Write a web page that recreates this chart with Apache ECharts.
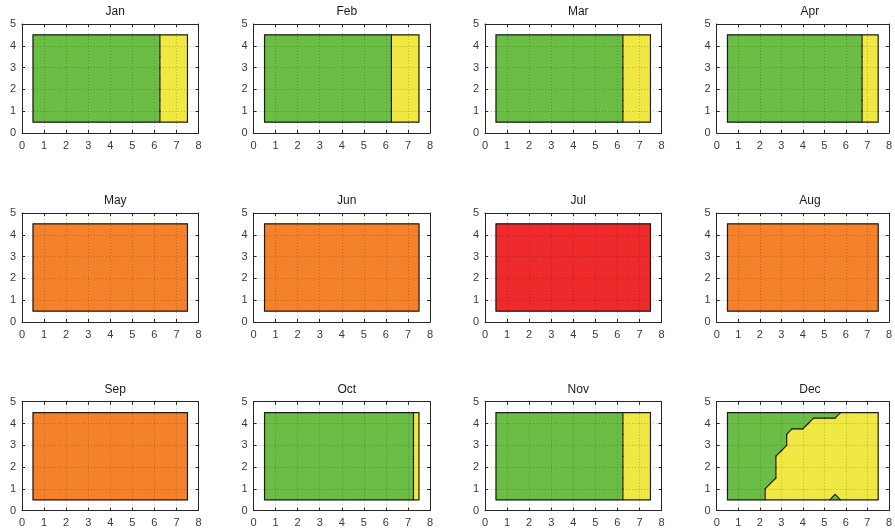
<!DOCTYPE html>
<html><head><meta charset="utf-8">
<script src="https://cdn.jsdelivr.net/npm/echarts@6/dist/echarts.min.js"></script>
<style>html,body{margin:0;padding:0;background:#fff}#c{width:895px;height:532px}</style>
</head><body><div id="c"></div><script>
// ---- data ----
const monthNames = ['Jan','Feb','Mar','Apr','May','Jun','Jul','Aug','Sep','Oct','Nov','Dec'];
const xNodes = [0.5,1,1.5,2,2.5,3,3.5,4,4.5,5,5.5,6,6.5,7,7.5];
const yNodes = [0.5,1,1.5,2,2.5,3,3.5,4,4.5];
const xTicks = [0,1,2,3,4,5,6,7,8];
const yTicks = [0,1,2,3,4,5];
const classColors = {G:'#6BBD45', Y:'#F0E843', O:'#F5822B', R:'#EE2A2B'};
// rows listed from y = 0.5 (bottom) to y = 4.5 (top); one letter per x node
const janRows = ['GGGGGGGGGGGGYYY','GGGGGGGGGGGGYYY','GGGGGGGGGGGGYYY','GGGGGGGGGGGGYYY','GGGGGGGGGGGGYYY','GGGGGGGGGGGGYYY','GGGGGGGGGGGGYYY','GGGGGGGGGGGGYYY','GGGGGGGGGGGGYYY'];
const febRows = ['GGGGGGGGGGGGYYY','GGGGGGGGGGGGYYY','GGGGGGGGGGGGYYY','GGGGGGGGGGGGYYY','GGGGGGGGGGGGYYY','GGGGGGGGGGGGYYY','GGGGGGGGGGGGYYY','GGGGGGGGGGGGYYY','GGGGGGGGGGGGYYY'];
const marRows = ['GGGGGGGGGGGGYYY','GGGGGGGGGGGGYYY','GGGGGGGGGGGGYYY','GGGGGGGGGGGGYYY','GGGGGGGGGGGGYYY','GGGGGGGGGGGGYYY','GGGGGGGGGGGGYYY','GGGGGGGGGGGGYYY','GGGGGGGGGGGGYYY'];
const aprRows = ['GGGGGGGGGGGGGYY','GGGGGGGGGGGGGYY','GGGGGGGGGGGGGYY','GGGGGGGGGGGGGYY','GGGGGGGGGGGGGYY','GGGGGGGGGGGGGYY','GGGGGGGGGGGGGYY','GGGGGGGGGGGGGYY','GGGGGGGGGGGGGYY'];
const mayRows = ['OOOOOOOOOOOOOOO','OOOOOOOOOOOOOOO','OOOOOOOOOOOOOOO','OOOOOOOOOOOOOOO','OOOOOOOOOOOOOOO','OOOOOOOOOOOOOOO','OOOOOOOOOOOOOOO','OOOOOOOOOOOOOOO','OOOOOOOOOOOOOOO'];
const junRows = ['OOOOOOOOOOOOOOO','OOOOOOOOOOOOOOO','OOOOOOOOOOOOOOO','OOOOOOOOOOOOOOO','OOOOOOOOOOOOOOO','OOOOOOOOOOOOOOO','OOOOOOOOOOOOOOO','OOOOOOOOOOOOOOO','OOOOOOOOOOOOOOO'];
const julRows = ['RRRRRRRRRRRRRRR','RRRRRRRRRRRRRRR','RRRRRRRRRRRRRRR','RRRRRRRRRRRRRRR','RRRRRRRRRRRRRRR','RRRRRRRRRRRRRRR','RRRRRRRRRRRRRRR','RRRRRRRRRRRRRRR','RRRRRRRRRRRRRRR'];
const augRows = ['OOOOOOOOOOOOOOO','OOOOOOOOOOOOOOO','OOOOOOOOOOOOOOO','OOOOOOOOOOOOOOO','OOOOOOOOOOOOOOO','OOOOOOOOOOOOOOO','OOOOOOOOOOOOOOO','OOOOOOOOOOOOOOO','OOOOOOOOOOOOOOO'];
const sepRows = ['OOOOOOOOOOOOOOO','OOOOOOOOOOOOOOO','OOOOOOOOOOOOOOO','OOOOOOOOOOOOOOO','OOOOOOOOOOOOOOO','OOOOOOOOOOOOOOO','OOOOOOOOOOOOOOO','OOOOOOOOOOOOOOO','OOOOOOOOOOOOOOO'];
const octRows = ['GGGGGGGGGGGGGGY','GGGGGGGGGGGGGGY','GGGGGGGGGGGGGGY','GGGGGGGGGGGGGGY','GGGGGGGGGGGGGGY','GGGGGGGGGGGGGGY','GGGGGGGGGGGGGGY','GGGGGGGGGGGGGGY','GGGGGGGGGGGGGGY'];
const novRows = ['GGGGGGGGGGGGYYY','GGGGGGGGGGGGYYY','GGGGGGGGGGGGYYY','GGGGGGGGGGGGYYY','GGGGGGGGGGGGYYY','GGGGGGGGGGGGYYY','GGGGGGGGGGGGYYY','GGGGGGGGGGGGYYY','GGGGGGGGGGGGYYY'];
const decRows = ['GGGGYYYYYYGYYYY','GGGGYYYYYYYYYYY','GGGGGYYYYYYYYYY','GGGGGYYYYYYYYYY','GGGGGYYYYYYYYYY','GGGGGGYYYYYYYYY','GGGGGGYYYYYYYYY','GGGGGGGGYYYYYYY','GGGGGGGGGGGYYYY'];
const monthRows = [janRows,febRows,marRows,aprRows,mayRows,junRows,julRows,augRows,sepRows,octRows,novRows,decRows];

// ---- layout ----
const colLeft = [22, 253.5, 485, 716.7];
const rowTop = [24, 213, 401.7];
const gw = 176.5, gh = 109;
const ink = '#262626';
const font = 'Liberation Sans, Arial, sans-serif';

function mid(a,b){return [(a[0]+b[0])/2,(a[1]+b[1])/2];}

const grids=[], xAxes=[], yAxes=[], titles=[], series=[];
const cellData = [];
for (let i=0;i<xNodes.length-1;i++) for (let j=0;j<yNodes.length-1;j++)
  cellData.push([(xNodes[i]+xNodes[i+1])/2,(yNodes[j]+yNodes[j+1])/2,i,j]);

monthNames.forEach((name,m)=>{
  const r = Math.floor(m/4), c = m%4;
  const L = colLeft[c], T = rowTop[r];
  grids.push({left:L, top:T, width:gw, height:gh, containLabel:false});
  titles.push({text:name, left:L+gw/2, top:T-23, textAlign:'center',
    textStyle:{fontSize:12, fontWeight:'normal', color:'#1a1a1a', fontFamily:font}});
  const common = {gridIndex:m, type:'value', z:4,
    axisLine:{show:true, onZero:false, lineStyle:{color:ink, width:1}},
    axisTick:{show:true, inside:true, length:3, lineStyle:{color:ink}}};
  xAxes.push(Object.assign({}, common, {position:'bottom', min:xTicks[0], max:xTicks[xTicks.length-1], interval:1,
    axisLabel:{color:'#3a3a3a', fontSize:11, margin:7, fontFamily:font},
    splitLine:{show:true, lineStyle:{color:'rgba(0,0,0,0.22)', type:[1,2], width:1}}}));
  xAxes.push(Object.assign({}, common, {position:'top', min:xTicks[0], max:xTicks[xTicks.length-1], interval:1,
    axisLabel:{show:false}, splitLine:{show:false}}));
  yAxes.push(Object.assign({}, common, {position:'left', min:yTicks[0], max:yTicks[yTicks.length-1], interval:1,
    axisLabel:{color:'#3a3a3a', fontSize:11, margin:6, fontFamily:font},
    splitLine:{show:true, lineStyle:{color:'rgba(0,0,0,0.22)', type:[1,2], width:1}}}));
  yAxes.push(Object.assign({}, common, {position:'right', min:yTicks[0], max:yTicks[yTicks.length-1], interval:1,
    axisLabel:{show:false}, splitLine:{show:false}}));

  const rows = monthRows[m];
  const cls = (i,j)=>rows[j][i];
  const xi = 2*m, yi = 2*m;
  function cellInfo(api){
    const i = api.value(2), j = api.value(3);
    const idx = [[i,j],[i+1,j],[i+1,j+1],[i,j+1]];
    const k = idx.map(p=>cls(p[0],p[1]));
    const pts = idx.map(p=>api.coord([xNodes[p[0]], yNodes[p[1]]]));
    return {k, pts};
  }
  series.push({type:'custom', xAxisIndex:xi, yAxisIndex:yi, z:2, silent:true, animation:false,
    data:cellData, encode:{x:0,y:1},
    renderItem:(params, api)=>{
      const {k, pts} = cellInfo(api);
      const uniq = [...new Set(k)];
      const children = uniq.map(cc=>{
        const poly=[];
        for(let a=0;a<4;a++){const b=(a+1)%4;
          if(k[a]===cc) poly.push(pts[a]);
          if((k[a]===cc)!==(k[b]===cc)) poly.push(mid(pts[a],pts[b]));
        }
        return {type:'polygon', shape:{points:poly},
          style:{fill:classColors[cc], stroke:classColors[cc], lineWidth:0.9}};
      });
      return {type:'group', children};
    }});
  series.push({type:'custom', xAxisIndex:xi, yAxisIndex:yi, z:3, silent:true, animation:false,
    data:cellData, encode:{x:0,y:1},
    renderItem:(params, api)=>{
      const {k, pts} = cellInfo(api);
      const ms=[];
      for(let a=0;a<4;a++){const b=(a+1)%4; if(k[a]!==k[b]) ms.push(mid(pts[a],pts[b]));}
      const children=[];
      for(let s=0;s+1<ms.length;s+=2){
        children.push({type:'line', shape:{x1:ms[s][0],y1:ms[s][1],x2:ms[s+1][0],y2:ms[s+1][1]},
          style:{stroke:'#1e1e1e', lineWidth:1.2, lineCap:'round'}});
      }
      return {type:'group', children};
    }});
  series.push({type:'custom', xAxisIndex:xi, yAxisIndex:yi, z:3, silent:true, animation:false,
    data:[[xNodes[0], yNodes[0], xNodes[xNodes.length-1], yNodes[yNodes.length-1]]], encode:{x:[0,2],y:[1,3]},
    renderItem:(params, api)=>{
      const p0 = api.coord([api.value(0), api.value(1)]);
      const p1 = api.coord([api.value(2), api.value(3)]);
      return {type:'rect', shape:{x:p0[0], y:p1[1], width:p1[0]-p0[0], height:p0[1]-p1[1]},
        style:{fill:'none', stroke:'#1e1e1e', lineWidth:1.2}};
    }});
});

const chart = echarts.init(document.getElementById('c'), null, {renderer:'canvas'});
chart.setOption({animation:false, backgroundColor:'#fff', title:titles, grid:grids, xAxis:xAxes, yAxis:yAxes, series});
</script></body></html>
